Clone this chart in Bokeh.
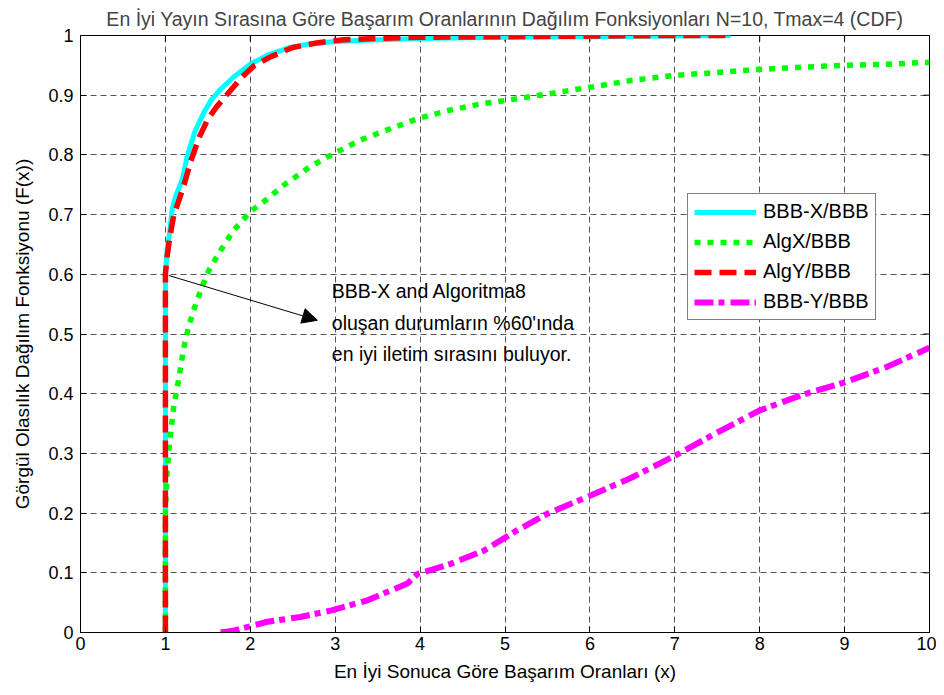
import math
from bokeh.plotting import figure
from bokeh.models import (FixedTicker, Range1d, Legend, LegendItem,
                          Arrow, NormalHead, Label)
from bokeh.embed import file_html
from bokeh.resources import INLINE

FONT = "Liberation Sans"

# ---------------- data ----------------
x_ticks = [0, 1, 2, 3, 4, 5, 6, 7, 8, 9, 10]
x_tick_labels = ["0", "1", "2", "3", "4", "5", "6", "7", "8", "9", "10"]
y_ticks = [0, 0.1, 0.2, 0.3, 0.4, 0.5, 0.6, 0.7, 0.8, 0.9, 1]
y_tick_labels = ["0", "0.1", "0.2", "0.3", "0.4", "0.5", "0.6", "0.7", "0.8", "0.9", "1"]

x_bbbx = [1, 1, 1.02, 1.05, 1.08, 1.12, 1.2, 1.26, 1.35, 1.45, 1.53, 1.65, 1.8, 2.0,
          2.2, 2.47, 2.7, 3.0, 3.5, 4.0, 5.0, 6.0, 7.0, 7.66]
y_bbbx = [0, 0.6, 0.64, 0.67, 0.71, 0.73, 0.76, 0.80, 0.84, 0.87, 0.89, 0.91, 0.93, 0.952,
          0.967, 0.98, 0.986, 0.99, 0.993, 0.995, 0.997, 0.998, 0.999, 1.0]

x_algx = [1.0, 1.0, 1.02, 1.05, 1.1, 1.16, 1.21, 1.27, 1.33, 1.42, 1.51, 1.65, 1.8, 2.0,
          2.18, 2.4, 2.7, 2.98, 3.3, 3.69, 4.0, 4.32, 4.7, 5.0, 5.5, 6.12, 6.5, 6.98,
          7.5, 7.97, 8.5, 8.99, 9.5, 10.0]
y_algx = [0.0, 0.2, 0.27, 0.32, 0.38, 0.427, 0.472, 0.51, 0.539, 0.575, 0.606, 0.64, 0.673,
          0.705, 0.724, 0.75, 0.78, 0.802, 0.825, 0.846, 0.862, 0.874, 0.885, 0.891, 0.902,
          0.916, 0.925, 0.933, 0.938, 0.943, 0.947, 0.95, 0.952, 0.955]

x_algy = [1, 1, 1.02, 1.05, 1.1, 1.15, 1.22, 1.3, 1.4, 1.5, 1.6, 1.75, 1.9, 2.05, 2.25,
          2.5, 2.8, 3.1, 3.5, 4.0, 5.0, 6.0, 7.0, 7.66]
y_algy = [0, 0.6, 0.63, 0.66, 0.7, 0.72, 0.75, 0.79, 0.83, 0.86, 0.88, 0.905, 0.93, 0.95,
          0.965, 0.98, 0.988, 0.993, 0.995, 0.997, 0.998, 0.999, 1.0, 1.0]

x_bbby = [1.65, 1.8, 1.96, 2.2, 2.59, 2.96, 3.38, 3.85, 3.97, 4.36, 4.75, 5.14, 5.5, 6.0,
          6.5, 7.0, 7.5, 8.0, 8.5, 9.0, 9.5, 10.0]
y_bbby = [0.0, 0.003, 0.009, 0.018, 0.026, 0.037, 0.054, 0.082, 0.098, 0.115, 0.137, 0.171,
          0.199, 0.229, 0.26, 0.296, 0.335, 0.372, 0.398, 0.419, 0.445, 0.477]

series_names = ["BBB-X/BBB", "AlgX/BBB", "AlgY/BBB", "BBB-Y/BBB"]

title_text = "En İyi Yayın Sırasına Göre Başarım Oranlarının Dağılım Fonksiyonları N=10, Tmax=4 (CDF)"
x_label = "En İyi Sonuca Göre Başarım Oranları (x)"
y_label = "Görgül Olasılık Dağılım Fonksiyonu (F(x))"
note_lines = "BBB-X and Algoritma8\noluşan durumların %60'ında\nen iyi iletim sırasını buluyor."
arrow_from = (1.04, 0.598)
arrow_to = (2.79, 0.523)
note_pos = (2.96, 0.59)

# ---------------- figure ----------------
p = figure(width=936, height=687, output_backend="svg", toolbar_location=None,
           x_range=Range1d(0, 10), y_range=Range1d(0, 1),
           min_border_left=80, min_border_right=7, min_border_top=35, min_border_bottom=55)
p.background_fill_color = "white"
p.border_fill_color = "white"
p.outline_line_color = "black"
p.outline_line_width = 1

p.title.text = title_text
p.title.align = "center"
p.title.text_font = FONT
p.title.text_font_size = "19.5px"
p.title.text_font_style = "normal"
p.title.standoff = 11

for ax in (p.xaxis[0], p.yaxis[0]):
    ax.major_tick_in = 6
    ax.major_tick_out = 0
    ax.minor_tick_line_color = None
    ax.axis_line_color = "black"
    ax.major_tick_line_color = "black"
    ax.major_label_text_font = FONT
    ax.major_label_text_font_size = "18px"
    ax.major_label_text_color = "black"
    ax.axis_label_text_font = FONT
    ax.axis_label_text_font_size = "19px"
    ax.axis_label_text_font_style = "normal"
    ax.axis_label_text_color = "black"

p.xaxis[0].ticker = FixedTicker(ticks=x_ticks)
p.xaxis[0].major_label_overrides = dict(zip(x_ticks, x_tick_labels))
p.xaxis[0].axis_label = x_label
p.xaxis[0].major_label_standoff = 4
p.xaxis[0].axis_label_standoff = 8

p.yaxis[0].ticker = FixedTicker(ticks=y_ticks)
p.yaxis[0].major_label_overrides = dict(zip(y_ticks, y_tick_labels))
p.yaxis[0].axis_label = y_label
p.yaxis[0].major_label_standoff = 7
p.yaxis[0].axis_label_standoff = 12

p.grid.grid_line_color = "#555555"
p.grid.grid_line_dash = "6 4"
p.grid.grid_line_width = 1
p.xgrid.ticker = FixedTicker(ticks=x_ticks)
p.ygrid.ticker = FixedTicker(ticks=y_ticks)

# inward ticks on the top and right edges of the box (half of each dash is clipped away)
p.scatter(x=x_ticks, y=[y_ticks[-1]] * len(x_ticks), marker="dash", size=12,
          angle=math.pi / 2, line_color="black", line_width=1)
p.scatter(x=[x_ticks[-1]] * len(y_ticks), y=y_ticks, marker="dash", size=12,
          line_color="black", line_width=1)

r1 = p.line(x_bbbx, y_bbbx, line_color="#00FFFF", line_width=5)
r2 = p.line(x_algx, y_algx, line_color="#00FF00", line_width=5.5, line_dash="6 7")
r3 = p.line(x_algy, y_algy, line_color="#FF0000", line_width=5.5, line_dash="17 8")
r4 = p.line(x_bbby, y_bbby, line_color="#FF00FF", line_width=6, line_dash="19 5 6 6")

legend = Legend(items=[LegendItem(label=n, renderers=[r]) for n, r in
                       zip(series_names, [r1, r2, r3, r4])],
                location=(607, 312))
legend.label_text_font = FONT
legend.label_text_font_size = "20px"
legend.label_text_color = "black"
legend.border_line_color = "black"
legend.border_line_width = 1
legend.background_fill_color = "white"
legend.background_fill_alpha = 1
legend.glyph_width = 62
legend.glyph_height = 20
legend.label_height = 20
legend.label_standoff = 7
legend.spacing = 7
legend.padding = 6
legend.margin = 0
p.add_layout(legend, "center")

p.add_layout(Arrow(end=NormalHead(size=15, fill_color="black", line_color="black"),
                   x_start=arrow_from[0], y_start=arrow_from[1],
                   x_end=arrow_to[0], y_end=arrow_to[1],
                   line_color="black", line_width=1))
p.add_layout(Label(x=note_pos[0], y=note_pos[1], text=note_lines, text_font=FONT,
                   text_font_size="19.5px", text_color="black", text_baseline="top",
                   text_line_height=1.42))

open("out.html", "w").write(file_html(p, INLINE))
